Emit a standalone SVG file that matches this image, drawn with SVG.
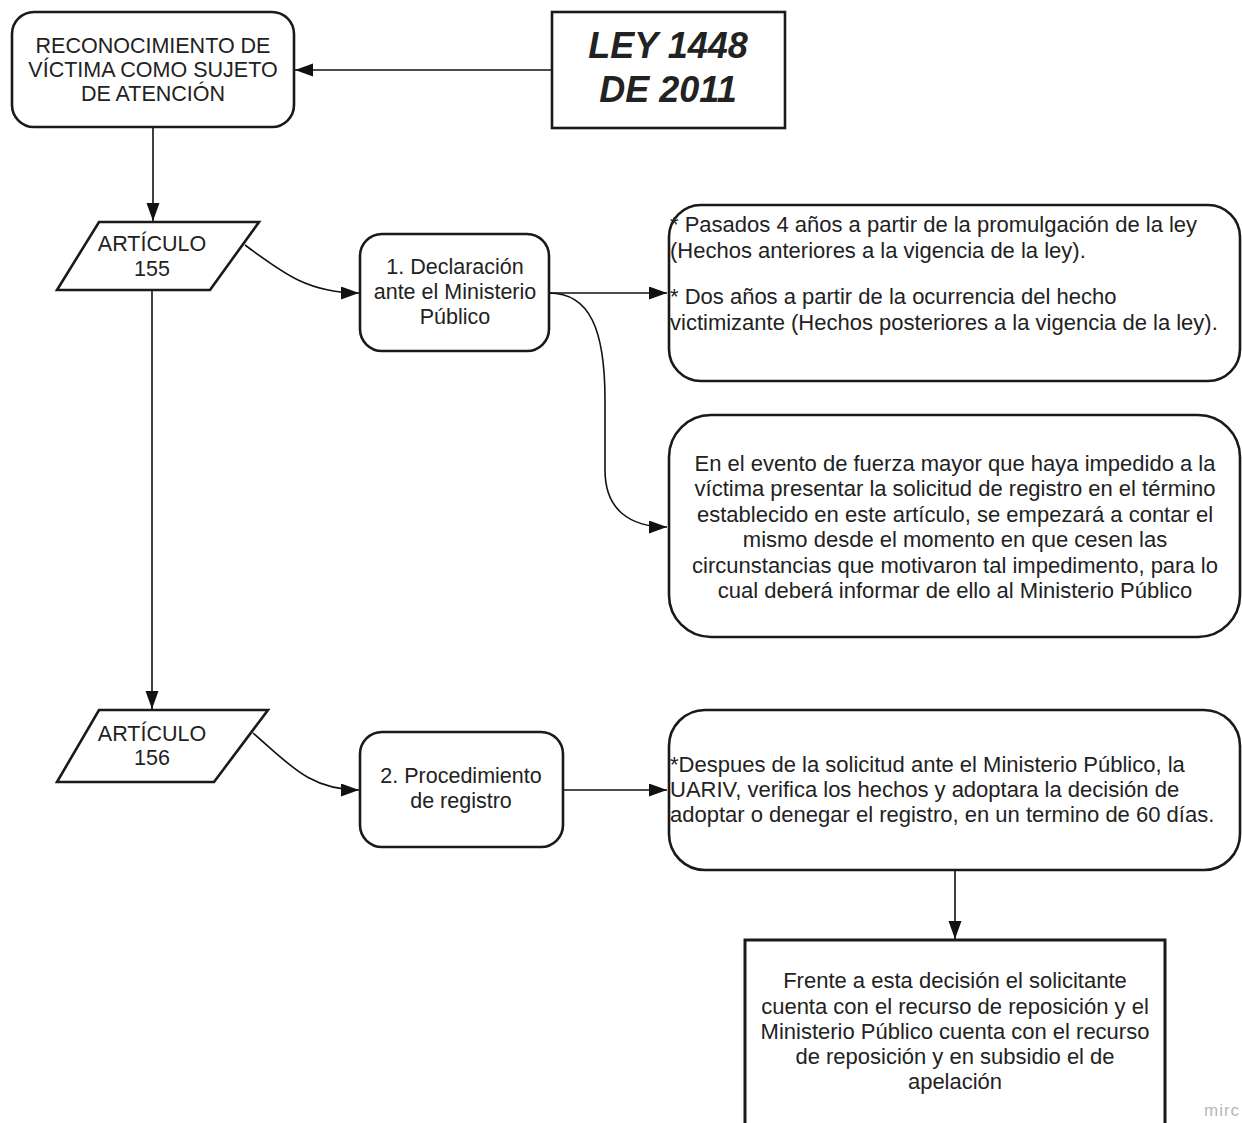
<svg xmlns="http://www.w3.org/2000/svg" width="1242" height="1123" viewBox="0 0 1242 1123">
<style>
.box{fill:#fff;stroke:#1a1a1a;stroke-width:2.6}
.t{font-family:"Liberation Sans",Arial,sans-serif;fill:#222}
.l{font-size:21.5px;text-anchor:middle}
.r{font-size:22px}
.c{text-anchor:middle}
.con{fill:none;stroke:#111;stroke-width:1.6}
.wm{font-family:"Liberation Sans",Arial,sans-serif;font-size:17px;fill:#b8b8b8;letter-spacing:1px}
</style>
<defs>
<marker id="ah" markerUnits="userSpaceOnUse" markerWidth="20" markerHeight="14" refX="18" refY="6.5" orient="auto">
<path d="M0,0 L18,6.5 L0,13 z" fill="#111"/>
</marker>
</defs>
<rect width="1242" height="1123" fill="#fff"/>

<g id="connectors">
<path class="con" d="M552,70 L295,70" marker-end="url(#ah)"/>
<path class="con" d="M153,128 L153,221" marker-end="url(#ah)"/>
<path class="con" d="M152,290 L152,709" marker-end="url(#ah)"/>
<path class="con" d="M245,245 C285,275 310,293 359,293" marker-end="url(#ah)"/>
<path class="con" d="M549,293 L667,293" marker-end="url(#ah)"/>
<path class="con" d="M549,293 C590,293 605,330 605,400 L605,470 C605,510 630,527 667,527" marker-end="url(#ah)"/>
<path class="con" d="M253,733 C290,765 310,790 359,790" marker-end="url(#ah)"/>
<path class="con" d="M563,790 L667,790" marker-end="url(#ah)"/>
<path class="con" d="M955,870 L955,939" marker-end="url(#ah)"/>
</g>

<g id="reconocimiento">
<rect class="box" x="12" y="12" width="282" height="115" rx="22"/>
<text class="t l" x="153" y="53">RECONOCIMIENTO DE</text>
<text class="t l" x="153" y="77">VÍCTIMA COMO SUJETO</text>
<text class="t l" x="153" y="101">DE ATENCIÓN</text>
</g>

<g id="ley">
<rect class="box" x="552" y="12" width="233" height="116"/>
<text class="t c" x="668" y="58" font-size="36" font-weight="bold" font-style="italic">LEY 1448</text>
<text class="t c" x="668" y="102" font-size="36" font-weight="bold" font-style="italic">DE 2011</text>
</g>

<g id="art155">
<polygon class="box" points="99,222 259,222 210,290 57,290"/>
<text class="t l" x="152" y="251">ARTÍCULO</text>
<text class="t l" x="152" y="276">155</text>
</g>

<g id="declaracion">
<rect class="box" x="360" y="234" width="189" height="117" rx="22"/>
<text class="t l" x="455" y="274">1. Declaración</text>
<text class="t l" x="455" y="299">ante el Ministerio</text>
<text class="t l" x="455" y="324">Público</text>
</g>

<g id="pasados">
<rect class="box" x="669" y="205" width="571" height="176" rx="32"/>
<text class="t r" x="670" y="232">* Pasados 4 años a partir de la promulgación de la ley</text>
<text class="t r" x="670" y="258">(Hechos anteriores a la vigencia de la ley).</text>
<text class="t r" x="670" y="304">* Dos años a partir de la ocurrencia del hecho</text>
<text class="t r" x="670" y="330">victimizante (Hechos posteriores a la vigencia de la ley).</text>
</g>

<g id="fuerza">
<rect class="box" x="669" y="415" width="571" height="222" rx="42"/>
<text class="t r c" x="955" y="471">En el evento de fuerza mayor que haya impedido a la</text>
<text class="t r c" x="955" y="496">víctima presentar la solicitud de registro en el término</text>
<text class="t r c" x="955" y="522">establecido en este artículo, se  empezará a contar el</text>
<text class="t r c" x="955" y="547">mismo desde el momento en que cesen las</text>
<text class="t r c" x="955" y="573">circunstancias que motivaron tal impedimento, para lo</text>
<text class="t r c" x="955" y="598">cual deberá  informar de ello al Ministerio Público</text>
</g>

<g id="art156">
<polygon class="box" points="99,710 268,710 214,782 57,782"/>
<text class="t l" x="152" y="741">ARTÍCULO</text>
<text class="t l" x="152" y="765">156</text>
</g>

<g id="procedimiento">
<rect class="box" x="360" y="732" width="203" height="115" rx="22"/>
<text class="t l" x="461" y="783">2. Procedimiento</text>
<text class="t l" x="461" y="808">de registro</text>
</g>

<g id="despues">
<rect class="box" x="669" y="710" width="571" height="160" rx="36"/>
<text class="t r" x="670" y="772">*Despues de la solicitud ante el Ministerio Público, la</text>
<text class="t r" x="670" y="797">UARIV, verifica los hechos y adoptara la decisión de</text>
<text class="t r" x="670" y="822">adoptar o denegar el registro, en un termino de 60 días.</text>
</g>

<g id="frente">
<rect x="745" y="940" width="420" height="200" fill="#fff" stroke="#1a1a1a" stroke-width="3"/>
<text class="t r c" x="955" y="988">Frente a esta decisión el solicitante</text>
<text class="t r c" x="955" y="1014">cuenta con el recurso de reposición y el</text>
<text class="t r c" x="955" y="1039">Ministerio Público cuenta con el recurso</text>
<text class="t r c" x="955" y="1064">de reposición y en subsidio el de</text>
<text class="t r c" x="955" y="1089">apelación</text>
</g>

<text class="wm" x="1204" y="1116">mirc</text>
</svg>
